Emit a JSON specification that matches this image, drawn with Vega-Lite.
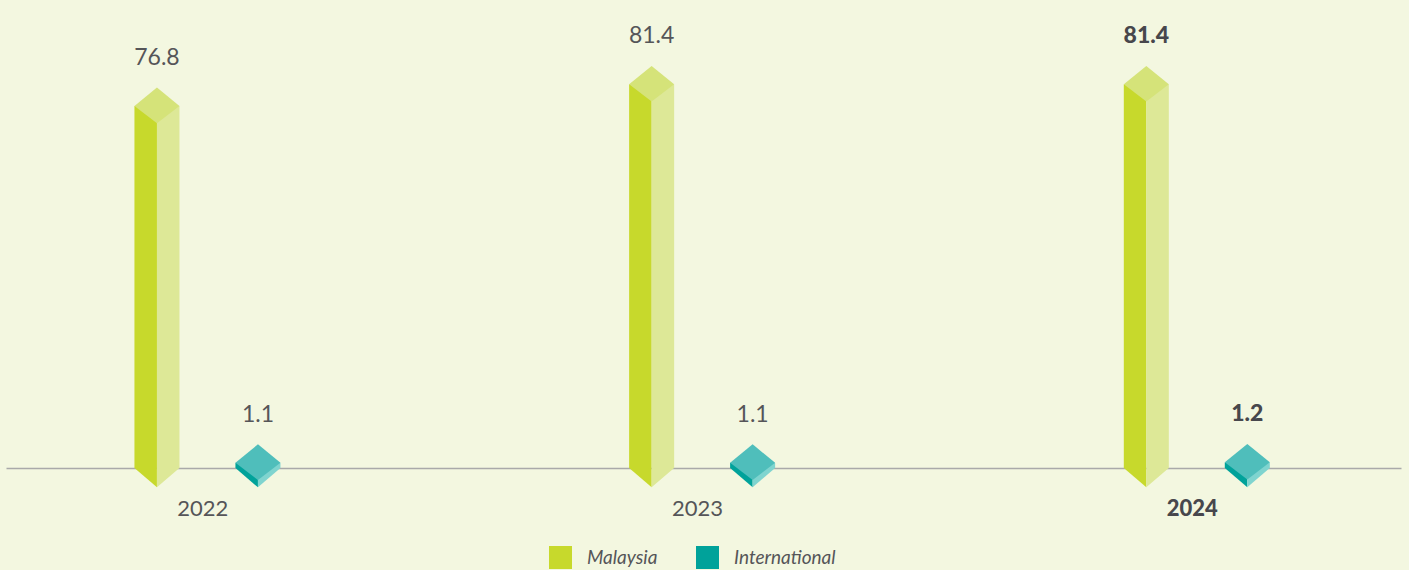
{
  "$schema": "https://vega.github.io/schema/vega-lite/v6.json",
  "width": 1395,
  "height": 468,
  "autosize": {"type": "none"},
  "padding": {"left": 6, "top": 0, "right": 8, "bottom": 102},
  "background": "#f3f7e0",
  "config": {
    "view": {"stroke": null},
    "font": "Lato"
  },
  "data": {
    "values": [
      {"year": "2022", "series": "Malaysia", "value": 76.8},
      {"year": "2022", "series": "International", "value": 1.1},
      {"year": "2023", "series": "Malaysia", "value": 81.4},
      {"year": "2023", "series": "International", "value": 1.1},
      {"year": "2024", "series": "Malaysia", "value": 81.4},
      {"year": "2024", "series": "International", "value": 1.2}
    ]
  },
  "encoding": {
    "x": {
      "field": "year",
      "type": "ordinal",
      "scale": {"paddingInner": 0.2, "paddingOuter": 0.01},
      "axis": {
        "title": null,
        "labelAngle": 0,
        "ticks": false,
        "domainColor": "#a9a9a9",
        "domainWidth": 1.5,
        "labelPadding": 30,
        "labelOffset": -6,
        "labelFontSize": 22,
        "labelFont": "Lato",
        "labelFontWeight": {"condition": {"test": "datum.value == '2024'", "value": 900}, "value": 400},
        "labelColor": {"condition": {"test": "datum.value == '2024'", "value": "#47474c"}, "value": "#555558"}
      }
    }
  },
  "layer": [
    {
      "mark": {"type": "bar", "cornerRadius": 0},
      "encoding": {
        "xOffset": {"field": "series", "type": "nominal", "sort": ["Malaysia", "International"],
          "scale": {"domain": ["Malaysia", "International"], "range": [123.5, 247], "paddingInner": 0.777, "paddingOuter": 0}},
        "y": {"field": "value", "type": "quantitative", "scale": {"domain": [0, 99.3], "nice": false}, "axis": null},
        "color": {
          "field": "series", "type": "nominal",
          "scale": {"domain": ["Malaysia", "International"], "range": ["#c7d92c", "#00a29a"]},
          "legend": {
            "title": null,
            "orient": "none",
            "direction": "horizontal",
            "legendX": 543,
            "legendY": 546,
            "padding": 0,
            "symbolType": "square",
            "symbolSize": 529,
            "symbolStrokeWidth": 0,
            "labelFontSize": 19,
            "labelFont": "Lato",
            "labelFontStyle": "italic",
            "labelColor": "#555558",
            "labelOffset": 15,
            "columnPadding": 38
          }
        }
      }
    },
    {
      "mark": {"type": "bar"},
      "encoding": {
        "xOffset": {"field": "series", "type": "nominal", "sort": ["Malaysia", "International"],
          "scale": {"domain": ["Malaysia", "International"], "range": [146, 269.5], "paddingInner": 0.777, "paddingOuter": 0}},
        "y": {"field": "value", "type": "quantitative"},
        "color": {
          "field": "series", "type": "nominal",
          "scale": {"domain": ["Malaysia", "International"], "range": ["#dde897", "#7fd4cf"]},
          "legend": null
        }
      }
    },
    {
      "mark": {"type": "point", "shape": "M-1,0L0,0L0,0.86Z", "filled": true, "opacity": 1, "size": 2025, "strokeWidth": 0},
      "encoding": {
        "xOffset": {"field": "series", "type": "nominal", "sort": ["Malaysia", "International"],
          "scale": {"domain": ["Malaysia", "International"], "range": [146, 247], "padding": 0}},
        "y": {"datum": 0, "type": "quantitative"},
        "color": {
          "field": "series", "type": "nominal",
          "scale": {"domain": ["Malaysia", "International"], "range": ["#c7d92c", "#00a29a"]},
          "legend": null
        }
      }
    },
    {
      "mark": {"type": "point", "shape": "M0,0L1,0L0,0.86Z", "filled": true, "opacity": 1, "size": 2025, "strokeWidth": 0},
      "encoding": {
        "xOffset": {"field": "series", "type": "nominal", "sort": ["Malaysia", "International"],
          "scale": {"domain": ["Malaysia", "International"], "range": [146, 247], "padding": 0}},
        "y": {"datum": 0, "type": "quantitative"},
        "color": {
          "field": "series", "type": "nominal",
          "scale": {"domain": ["Malaysia", "International"], "range": ["#dde897", "#7fd4cf"]},
          "legend": null
        }
      }
    },
    {
      "mark": {"type": "point", "shape": "M-1,0L0,-0.82L1,0L0,0.76Z", "filled": true, "opacity": 1, "size": 2025, "strokeWidth": 0},
      "encoding": {
        "xOffset": {"field": "series", "type": "nominal", "sort": ["Malaysia", "International"],
          "scale": {"domain": ["Malaysia", "International"], "range": [146, 247], "padding": 0}},
        "y": {"field": "value", "type": "quantitative"},
        "color": {
          "field": "series", "type": "nominal",
          "scale": {"domain": ["Malaysia", "International"], "range": ["#d5e379", "#4fbebb"]},
          "legend": null
        }
      }
    },
    {
      "mark": {
        "type": "text",
        "dy": -48,
        "fontSize": 23,
        "font": "Lato",
        "baseline": "middle",
        "fontWeight": {"expr": "datum.year == '2024' ? 900 : 400"},
        "fill": {"expr": "datum.year == '2024' ? '#47474c' : '#555558'"}
      },
      "encoding": {
        "xOffset": {"field": "series", "type": "nominal", "sort": ["Malaysia", "International"],
          "scale": {"domain": ["Malaysia", "International"], "range": [146, 247], "padding": 0}},
        "y": {"field": "value", "type": "quantitative"},
        "text": {"field": "value", "type": "quantitative", "format": ".1f"}
      }
    }
  ],
  "resolve": {"scale": {"color": "independent", "xOffset": "independent"}}
}
